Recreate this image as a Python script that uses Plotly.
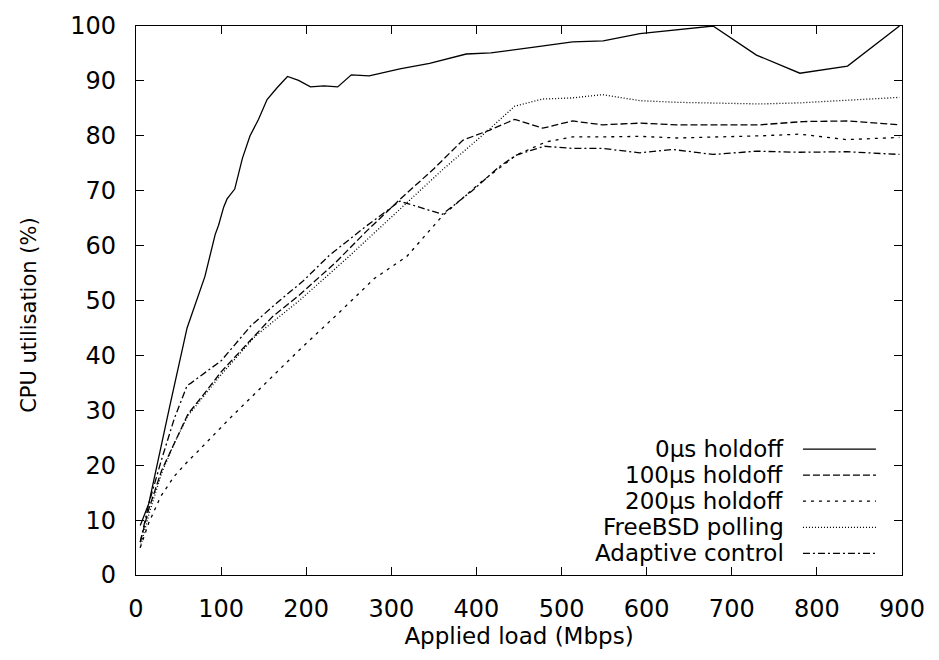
import plotly.graph_objects as go

# CPU utilisation vs applied load for each interrupt-handling scheme
x_0us = [5, 15, 40, 60, 81, 93, 97, 103, 107, 116, 125, 134, 144, 154, 166, 178, 191, 205,
         221, 237, 253, 274, 310, 345, 388, 417, 470, 513, 549, 592, 678, 729, 780, 836, 897]
y_0us = [9, 13, 31, 45, 54.4, 62, 63.7, 67, 68.5, 70.3, 75.9, 80, 83, 86.6, 88.8, 90.8, 90.1, 88.9,
         89.1, 88.9, 91.1, 90.9, 92.2, 93.2, 94.9, 95.1, 96.2, 97.1, 97.3, 98.6, 100, 94.7, 91.4, 92.7, 100]

x_100us = [5, 15, 30, 45, 61, 80, 100, 130, 160, 192, 235, 270, 310, 350, 384, 415, 445,
           478, 513, 548, 592, 635, 733, 784, 836, 897]
y_100us = [6, 12, 19, 24, 29.3, 33, 37, 42, 47, 51, 57, 62.5, 68.4, 74, 79.2, 81, 83,
           81.4, 82.7, 82, 82.3, 82, 82, 82.6, 82.7, 82]

x_200us = [5, 15, 29, 45, 62, 70, 110, 152, 192, 240, 280, 318, 360, 404, 447, 482, 513,
           548, 592, 635, 690, 735, 780, 835, 897]
y_200us = [5, 9.5, 14.3, 18, 20.9, 22.1, 28.5, 35, 41, 48, 54, 58, 65.4, 71.4, 76.5, 78.9, 79.8,
           79.8, 79.9, 79.6, 79.8, 80, 80.3, 79.3, 79.7]

x_bsd = [5, 15, 30, 45, 61, 100, 140, 192, 250, 310, 360, 413, 445, 478, 513, 548, 592,
         635, 733, 780, 840, 897]
y_bsd = [5, 11, 18.5, 24, 29, 36.5, 43.5, 50, 58, 66.7, 73.8, 80.9, 85.4, 86.7, 86.9, 87.5, 86.4,
         86.1, 85.8, 86, 86.5, 87]

x_adapt = [5, 15, 30, 45, 60, 65, 77, 100, 135, 165, 196, 227, 270, 310, 360, 395, 427, 447,
           480, 513, 548, 592, 631, 678, 729, 780, 835, 897]
y_adapt = [6, 13, 21, 28.5, 34.5, 35, 36.4, 39, 45.4, 49.5, 53.5, 58.2, 63.5, 68.1, 65.7, 70, 74.4, 76.5,
           78.1, 77.7, 77.7, 76.9, 77.5, 76.6, 77.2, 77, 77.1, 76.6]

series_names = ["0\u03bcs holdoff", "100\u03bcs holdoff", "200\u03bcs holdoff",
                "FreeBSD polling", "Adaptive control"]
series_x = [x_0us, x_100us, x_200us, x_bsd, x_adapt]
series_y = [y_0us, y_100us, y_200us, y_bsd, y_adapt]
dashes = ["solid", "7px,3px", "3px,5px", "1px,2px", "7px,3px,2px,3px"]

x_ticks = list(range(0, 901, 100))
y_ticks = list(range(0, 101, 10))

FONT = "DejaVu Sans, Verdana, sans-serif"

fig = go.Figure()
for name, xs, ys, dash in zip(series_names, series_x, series_y, dashes):
    fig.add_trace(go.Scatter(x=xs, y=ys, mode="lines", name=name, showlegend=False,
                             line=dict(color="black", width=1.3, dash=dash)))

# key in the lower right: right-aligned text followed by a line sample
row_top = 0.2294
row_step = 0.0475
for i, (name, dash) in enumerate(zip(series_names, dashes)):
    yy = row_top - i * row_step
    fig.add_annotation(x=0.8485, y=yy, xref="paper", yref="paper", text=name,
                       showarrow=False, xanchor="right", yanchor="middle",
                       font=dict(family=FONT, size=23, color="black"))
    fig.add_shape(type="line", xref="paper", yref="paper", x0=0.8707, x1=0.966, y0=yy, y1=yy,
                  line=dict(color="black", width=1.3, dash=dash))

# vertical axis title, placed as a rotated label left of the tick numbers
fig.add_annotation(x=-0.139, y=0.473, xref="paper", yref="paper", text="CPU utilisation (%)",
                   textangle=-90, showarrow=False, xanchor="center", yanchor="middle",
                   font=dict(family=FONT, size=21, color="black"))

axis_common = dict(showgrid=False, zeroline=False, showline=True, linecolor="black", linewidth=1.3,
                   mirror="allticks", ticks="inside", ticklen=8, tickwidth=1.2, tickcolor="black",
                   tickfont=dict(family=FONT, size=24, color="black"))

fig.update_xaxes(range=[0, 900], tickvals=x_ticks, ticktext=[str(v) for v in x_ticks],
                 ticklabelstandoff=12,
                 title=dict(text="Applied load (Mbps)", font=dict(family=FONT, size=23, color="black"),
                            standoff=4),
                 **axis_common)
fig.update_yaxes(range=[0, 100], tickvals=y_ticks, ticktext=[str(v) for v in y_ticks],
                 ticklabelstandoff=14,
                 **axis_common)

fig.update_layout(width=939, height=660, margin=dict(l=136, r=37, t=17, b=85),
                  plot_bgcolor="white", paper_bgcolor="white",
                  font=dict(family=FONT, size=23, color="black"))

fig.write_html("out.html")
